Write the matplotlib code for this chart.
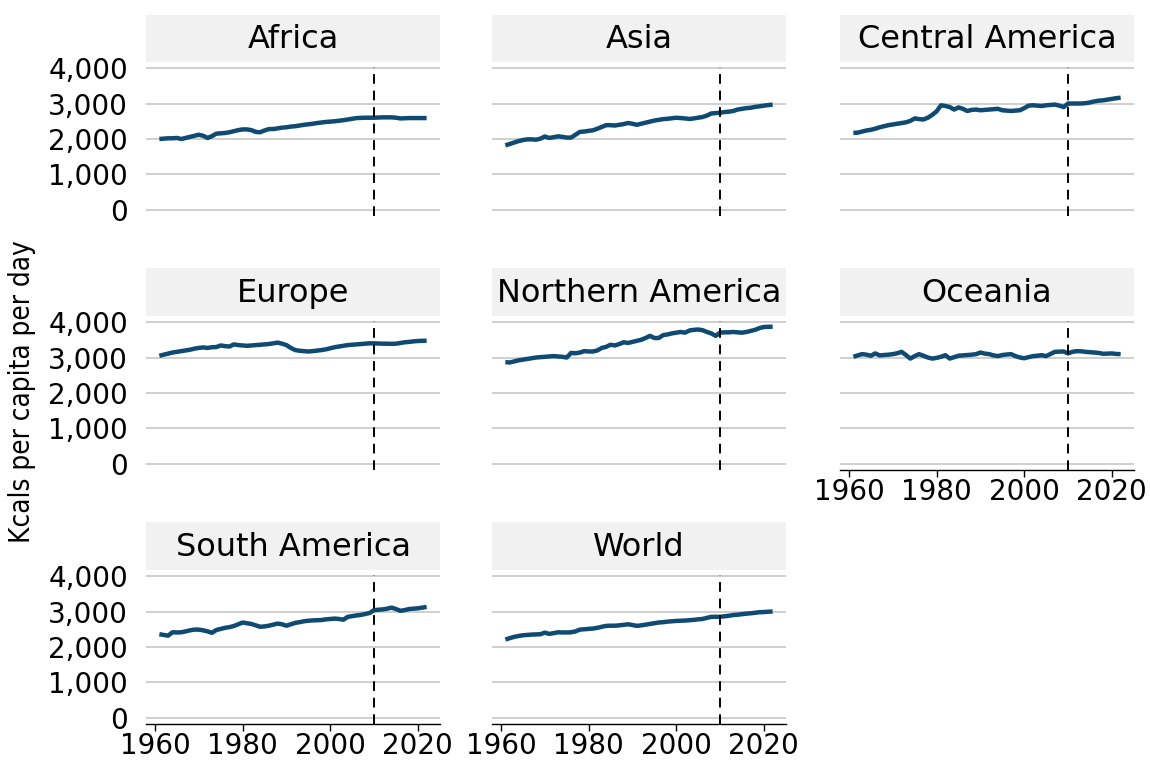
# Daily calorie supply per person by region, small multiples
import matplotlib.pyplot as plt
import numpy as np

years = list(range(1961, 2023))

africa = [2000, 2010, 2020, 2020, 2030, 2000, 2030, 2060, 2090, 2120,
          2090, 2030, 2080, 2150, 2160, 2170, 2190, 2220, 2250, 2270,
          2270, 2250, 2200, 2190, 2240, 2280, 2280, 2300, 2320, 2330,
          2350, 2360, 2380, 2400, 2415, 2430, 2450, 2465, 2480, 2490,
          2500, 2515, 2530, 2550, 2570, 2590, 2595, 2600, 2600, 2600,
          2605, 2610, 2610, 2610, 2600, 2580, 2585, 2590, 2590, 2590,
          2590, 2590]
asia = [1820, 1860, 1900, 1940, 1970, 1990, 1990, 1980, 2010, 2070,
        2030, 2050, 2075, 2060, 2040, 2040, 2120, 2200, 2210, 2230,
        2245, 2290, 2340, 2390, 2390, 2380, 2400, 2420, 2450, 2430,
        2400, 2430, 2460, 2490, 2520, 2540, 2560, 2570, 2585, 2600,
        2590, 2580, 2565, 2580, 2600, 2620, 2660, 2720, 2730, 2740,
        2760, 2770, 2790, 2830, 2850, 2870, 2880, 2905, 2920, 2940,
        2955, 2970]
central_america = [2170, 2180, 2210, 2240, 2260, 2290, 2330, 2360, 2390, 2410,
                   2430, 2450, 2470, 2510, 2580, 2560, 2550, 2600, 2680, 2780,
                   2950, 2930, 2900, 2830, 2890, 2850, 2790, 2820, 2830, 2810,
                   2820, 2830, 2840, 2850, 2810, 2800, 2790, 2800, 2810, 2870,
                   2940, 2950, 2940, 2930, 2950, 2960, 2970, 2940, 2900, 3000,
                   3000, 3000, 3000, 3010, 3030, 3060, 3080, 3090, 3110, 3130,
                   3150, 3165]
europe = [3050, 3080, 3110, 3140, 3160, 3180, 3200, 3220, 3250, 3270,
          3285, 3270, 3290, 3295, 3340, 3320, 3310, 3370, 3350, 3340,
          3330, 3340, 3350, 3360, 3370, 3380, 3400, 3420, 3390, 3350,
          3270, 3210, 3190, 3180, 3170, 3180, 3195, 3210, 3230, 3260,
          3290, 3310, 3330, 3350, 3360, 3370, 3380, 3390, 3400, 3400,
          3395, 3390, 3390, 3385, 3390, 3410, 3430, 3440, 3455, 3465,
          3470, 3475]
northern_america = [2870, 2860, 2890, 2920, 2940, 2960, 2980, 3000, 3010, 3020,
                    3030, 3040, 3030, 3020, 3000, 3130, 3120, 3140, 3180, 3170,
                    3170, 3200, 3270, 3300, 3360, 3340, 3380, 3430, 3410, 3440,
                    3470, 3500, 3550, 3610, 3550, 3550, 3630, 3650, 3680, 3700,
                    3720, 3700, 3760, 3780, 3790, 3770, 3720, 3680, 3610, 3700,
                    3710, 3710, 3720, 3710, 3700, 3720, 3750, 3780, 3830, 3860,
                    3865, 3870]
oceania = [3020, 3060, 3095, 3080, 3050, 3115, 3060, 3070, 3080, 3095,
           3120, 3160, 3070, 2970, 3040, 3095, 3050, 3000, 2970, 2990,
           3020, 3065, 2970, 3010, 3050, 3060, 3070, 3080, 3095, 3140,
           3110, 3095, 3060, 3040, 3070, 3085, 3095, 3040, 3000, 2980,
           3010, 3040, 3050, 3065, 3040, 3100, 3160, 3165, 3170, 3115,
           3160, 3180, 3175, 3160, 3150, 3140, 3130, 3105, 3110, 3115,
           3100, 3095]
south_america = [2360, 2340, 2320, 2415, 2410, 2415, 2440, 2470, 2490, 2490,
                 2470, 2440, 2400, 2480, 2510, 2540, 2560, 2590, 2640, 2690,
                 2670, 2650, 2610, 2570, 2580, 2600, 2630, 2660, 2640, 2600,
                 2640, 2680, 2700, 2725, 2740, 2750, 2755, 2760, 2780, 2790,
                 2800, 2790, 2770, 2850, 2870, 2890, 2905, 2930, 2960, 3040,
                 3050, 3060, 3080, 3110, 3070, 3020, 3040, 3070, 3080, 3090,
                 3110, 3130]
world = [2210, 2250, 2285, 2310, 2330, 2340, 2350, 2355, 2360, 2405,
         2370, 2390, 2415, 2410, 2410, 2415, 2440, 2490, 2500, 2510,
         2520, 2540, 2570, 2595, 2600, 2600, 2610, 2625, 2640, 2620,
         2595, 2610, 2630, 2650, 2670, 2690, 2700, 2715, 2725, 2735,
         2740, 2745, 2755, 2765, 2780, 2790, 2820, 2850, 2850, 2850,
         2865, 2880, 2900, 2910, 2925, 2940, 2950, 2965, 2980, 2985,
         2995, 3000]

regions = ["Africa", "Asia", "Central America", "Europe", "Northern America",
           "Oceania", "South America", "World"]
series = [africa, asia, central_america, europe, northern_america,
          oceania, south_america, world]
y_ticks = [0, 1000, 2000, 3000, 4000]
x_ticks = [1960, 1980, 2000, 2020]
marker_year = 2010

plt.rcParams['font.family'] = ['DejaVu Sans']

W, H = 1150, 762
fig = plt.figure(figsize=(W / 100, H / 100), dpi=100)

col_lr = [(146, 440), (492, 786), (840, 1134)]
row_tb = [(15, 62, 216), (268, 316, 470), (522, 570, 724)]
# panels with an x axis (last in their column)
x_axis_panels = ["Oceania", "South America", "World"]

for i, (name, vals) in enumerate(zip(regions, series)):
    r, c = divmod(i, 3)
    left, right = col_lr[c]
    s_top, p_top, p_bot = row_tb[r]

    ax = fig.add_axes([left / W, 1 - p_bot / H, (right - left) / W, (p_bot - p_top) / H])
    sax = fig.add_axes([left / W, 1 - p_top / H, (right - left) / W, (p_top - s_top) / H])
    sax.set_facecolor('#f1f1f1')
    for sp in sax.spines.values():
        sp.set_visible(False)
    sax.set_xticks([])
    sax.set_yticks([])
    sax.text(0.5, 0.47, name, ha='center', va='center', fontsize=23, transform=sax.transAxes)

    ax.plot(years, vals, color='#0f4a72', linewidth=3.2, solid_capstyle='butt', zorder=3)
    ax.axvline(marker_year, ymax=0.965, color='black', linewidth=1.4, dashes=(5, 3.5), zorder=4)

    ax.set_xlim(1957.95, 2025.05)
    ax.set_ylim(-170, 4170)
    ax.set_yticks(y_ticks)
    ax.set_xticks(x_ticks)
    ax.grid(axis='y', color='#cccccc', linewidth=1.3)
    ax.set_axisbelow(True)
    for sp in ['top', 'right', 'left']:
        ax.spines[sp].set_visible(False)
    ax.tick_params(axis='y', length=0, labelsize=20, pad=13)
    if c == 0:
        ax.set_yticklabels([f"{v:,}" for v in y_ticks])
    else:
        ax.set_yticklabels([])
    if name in x_axis_panels:
        ax.spines['bottom'].set_color('black')
        ax.spines['bottom'].set_linewidth(1.0)
        ax.tick_params(axis='x', length=5, width=1.0, labelsize=20, pad=1)
    else:
        ax.spines['bottom'].set_visible(False)
        ax.tick_params(axis='x', length=0, labelbottom=False)

fig.text(22 / W, 1 - 392 / H, "Kcals per capita per day", rotation=90,
         ha='center', va='center', fontsize=20, family='DejaVu Sans',
         fontstretch='condensed')

plt.savefig('out.png', dpi=100)
